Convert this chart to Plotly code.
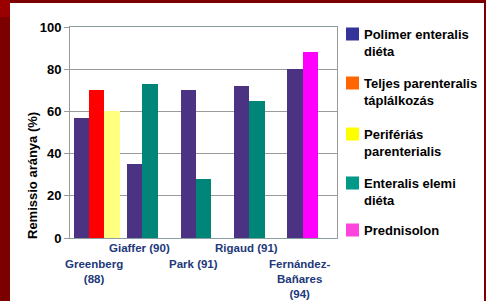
import plotly.graph_objects as go

# ---- data ----
studies = ["Greenberg<br>(88)", "Giaffer (90)", "Park (91)", "Rigaud (91)", "Fernández-<br>Bañares<br>(94)"]
label_row = [1, 0, 1, 0, 1]  # staggered label rows
series_names = ["Polimer enteralis<br>diéta", "Teljes parenteralis<br>táplálkozás",
                "Perifériás<br>parenterialis", "Enteralis elemi<br>diéta", "Prednisolon"]
polimer = [57, 35, 70, 72, 80]
teljes = [70, None, None, None, None]
periferias = [60, None, None, None, None]
elemi = [None, 73, 28, 65, None]
prednisolon = [None, None, None, None, 88]
series_values = [polimer, teljes, periferias, elemi, prednisolon]
bar_colors = ["#4b3282", "#ff0000", "#ffff80", "#008579", "#ff00ff"]
legend_colors = ["#333399", "#ff6600", "#ffff00", "#009988", "#ff44dd"]
y_ticks = [0, 20, 40, 60, 80, 100]

# ---- layout helpers (pixel geometry) ----
W, H = 486, 301
L, R, T, B = 70, 337, 27, 238
def xp(px): return (px - L) / (R - L)
def yp(py): return (B - py) / (B - T)

w = 0.287  # bar width in category units
fig = go.Figure()

# compute slot of each bar in each group
slot_count = [0] * len(studies)
for s, vals in enumerate(series_values):
    xs, ys = [], []
    for i, v in enumerate(vals):
        if v is None:
            continue
        xs.append(i + (slot_count[i] - 1) * w)
        ys.append(v)
        slot_count[i] += 1
    fig.add_trace(go.Bar(x=xs, y=ys, width=w, marker=dict(color=bar_colors[s], line=dict(width=0)),
                         name=series_names[s].replace("<br>", " "), showlegend=False))

shapes = [
    dict(type="rect", xref="paper", yref="paper", x0=xp(10), x1=xp(484), y0=yp(301), y1=yp(3),
         fillcolor="white", line=dict(width=0), layer="below"),
    dict(type="rect", xref="paper", yref="paper", x0=xp(0), x1=xp(10), y0=yp(17), y1=yp(0),
         fillcolor="#9a0000", line=dict(width=0), layer="below"),
]
annotations = []

# manual legend
legend_line1 = [34, 83, 134, 183, 230]
for k, name in enumerate(series_names):
    c = legend_line1[k]
    shapes.append(dict(type="rect", xref="paper", yref="paper", x0=xp(346), x1=xp(359),
                       y0=yp(c + 6.5), y1=yp(c - 6.5), fillcolor=legend_colors[k], line=dict(width=0)))
    annotations.append(dict(xref="paper", yref="paper", x=xp(362), y=yp(c - 9), xanchor="left", yanchor="top",
                            text=name, showarrow=False, align="left",
                            font=dict(family="Liberation Sans, Arial", size=13, color="black", weight="bold")))

# category labels
for i, lab in enumerate(studies):
    n = slot_count[i]
    cx = i + (n - 3) / 2 * w - 0.05
    top = 240 if label_row[i] == 0 else 256
    annotations.append(dict(xref="x", yref="paper", x=cx, y=yp(top), xanchor="center", yanchor="top",
                            text=lab, showarrow=False, align="center",
                            font=dict(family="Liberation Sans, Arial", size=11.5, color="#22387a", weight="bold")))

# y title
annotations.append(dict(xref="paper", yref="paper", x=xp(32), y=yp(176), text="Remissio aránya (%)",
                        textangle=-90, showarrow=False, xanchor="center", yanchor="middle",
                        font=dict(family="Liberation Sans, Arial", size=13, color="black", weight="bold")))

fig.update_layout(
    width=W, height=H,
    margin=dict(l=L, r=W - R, t=T, b=H - B, pad=0),
    paper_bgcolor="#7d0000", plot_bgcolor="white",
    barmode="overlay", bargap=0,
    showlegend=False,
    shapes=shapes, annotations=annotations,
    xaxis=dict(range=[-0.5, len(studies) - 0.5], showticklabels=False, showgrid=False, zeroline=False,
               showline=True, linecolor="#8aa0a0", linewidth=1, mirror=True, ticks=""),
    yaxis=dict(range=[0, 100], tickvals=y_ticks, showgrid=True, gridcolor="#9a9a9a", gridwidth=1,
               zeroline=False, showline=True, linecolor="#9a9a9a", mirror=True, ticks="outside",
               ticklen=5, tickcolor="#9a9a9a",
               tickfont=dict(family="Liberation Sans, Arial", size=13, color="black", weight="bold")),
)

fig.write_html("out.html", config={"displayModeBar": False},
               post_script="document.body.style.margin='0';document.body.style.overflow='hidden';")
